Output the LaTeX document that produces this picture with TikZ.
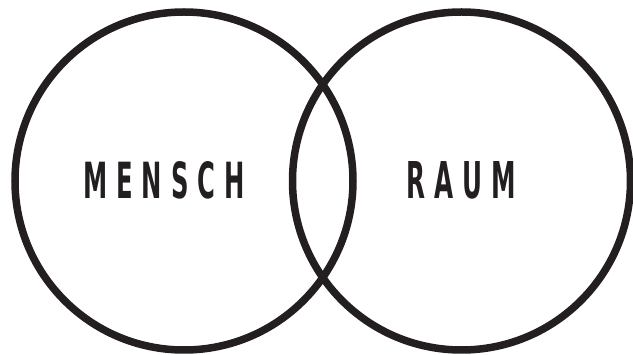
\documentclass[tikz,border=0pt]{standalone}
\usepackage{fontspec}
\newfontfamily\dinfont{DejaVu Sans Condensed}[BoldFont={DejaVu Sans Condensed Bold}]
\definecolor{ink}{HTML}{231F20}
\begin{document}
\begin{tikzpicture}[x=1pt,y=-1pt,
  ring/.style={draw=ink,line width=7.5pt},
  word/.style={inner sep=0pt,outer sep=0pt,text=ink,anchor=center}]
\useasboundingbox (0,0) rectangle (633,355);
\draw[ring] (184,181) circle[radius=169];
\draw[ring] (461.5,181) circle[radius=169];
\node[word] (mensch) at (164,180.5) {\resizebox{162pt}{37pt}{\fontsize{50.75}{60}\dinfont\bfseries M\kern17pt E\kern17pt N\kern17pt S\kern17pt C\kern17pt H}};
\node[word] (raum) at (461.5,180.5) {\resizebox{110pt}{37pt}{\fontsize{50.75}{60}\dinfont\bfseries R\kern17pt A\kern17pt U\kern17pt M}};
\end{tikzpicture}
\end{document}
